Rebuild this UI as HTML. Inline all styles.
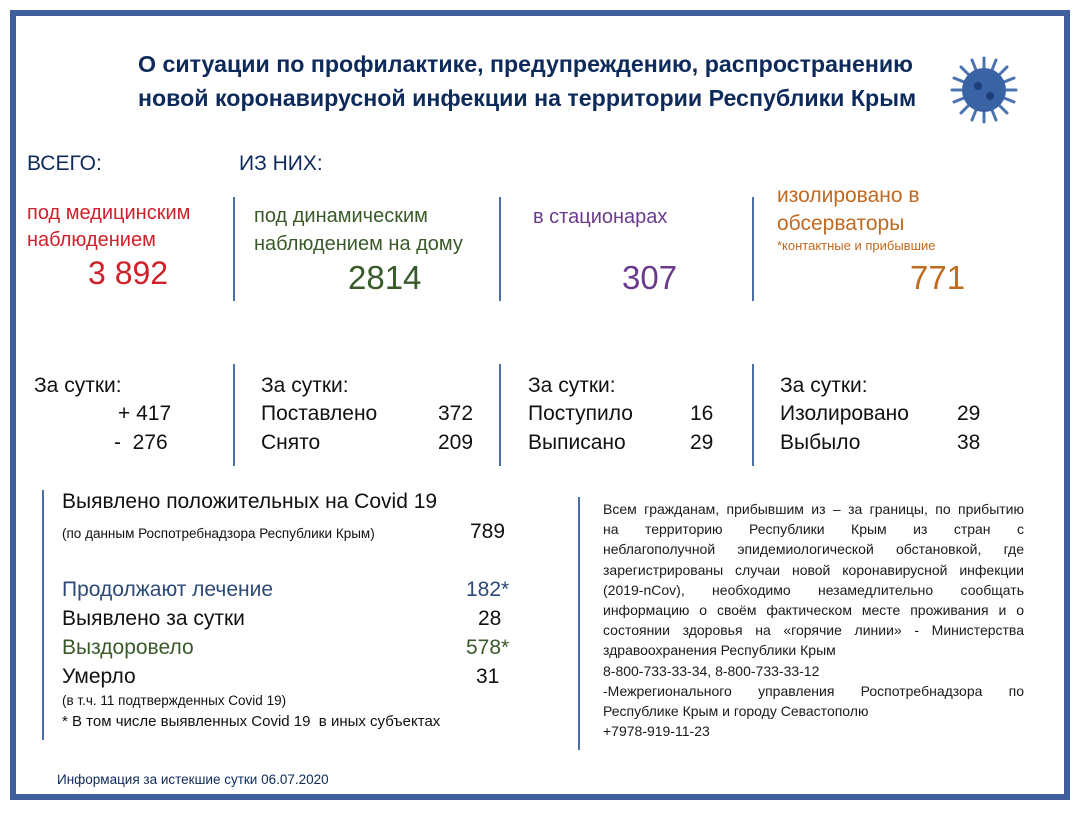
<!DOCTYPE html>
<html><head><meta charset="utf-8"><style>
body{margin:0;width:1080px;height:815px;background:#fff;position:relative;overflow:hidden;font-family:"Liberation Sans","Noto Sans CJK SC",sans-serif;}
.a{position:absolute;white-space:nowrap;}
.frame{position:absolute;left:10px;top:10px;width:1048px;height:778px;border:6px solid #3d5f9c;}
.vl{position:absolute;width:2px;background:#4a6ea8;}
.t{color:#0d2a5a;font-weight:bold;font-size:23.2px;}
.k{color:#111;font-size:21px;}
.d{color:#1a1a1a;font-size:14px;line-height:20.2px;position:absolute;left:603px;top:499px;width:421px;}
.d div{height:20.2px;white-space:nowrap;}
.d .j{text-align:justify;text-align-last:justify;}
</style></head><body>
<div class="frame"></div>
<div class="a t" style="left:138px;top:51px;">О ситуации по профилактике, предупреждению, распространению</div>
<div class="a t" style="left:138px;top:85px;">новой коронавирусной инфекции на территории Республики Крым</div>
<svg class="a" style="left:948px;top:52px" width="72" height="76" viewBox="0 0 72 76">
<g stroke="#4a72b0" stroke-width="3" stroke-linecap="round">
<line x1="36" y1="38" x2="36" y2="6"/><line x1="36" y1="38" x2="36" y2="70"/><line x1="36" y1="38" x2="4" y2="38"/><line x1="36" y1="38" x2="68" y2="38"/>
<line x1="36" y1="38" x2="13" y2="15"/><line x1="36" y1="38" x2="59" y2="61"/><line x1="36" y1="38" x2="59" y2="15"/><line x1="36" y1="38" x2="13" y2="61"/>
<line x1="36" y1="38" x2="24" y2="8"/><line x1="36" y1="38" x2="48" y2="68"/><line x1="36" y1="38" x2="6" y2="26"/><line x1="36" y1="38" x2="66" y2="50"/>
<line x1="36" y1="38" x2="48" y2="8"/><line x1="36" y1="38" x2="24" y2="68"/><line x1="36" y1="38" x2="66" y2="26"/><line x1="36" y1="38" x2="6" y2="50"/>
</g><circle cx="36" cy="38" r="22" fill="#3a63a6"/><circle cx="30" cy="34" r="4" fill="#1e3e78"/><circle cx="42" cy="44" r="4" fill="#1e3e78"/></svg>

<div class="a k" style="left:27px;top:152px;color:#0d2a5a;">ВСЕГО:</div>
<div class="a k" style="left:239px;top:152px;color:#0d2a5a;">ИЗ НИХ:</div>
<div class="a" style="left:27px;top:200px;color:#d0202a;font-size:20px;line-height:27px;">под медицинским<br>наблюдением</div>
<div class="a" style="left:88px;top:255px;color:#d0202a;font-size:32px;">3 892</div>
<div class="a" style="left:254px;top:202px;color:#3a5a2a;font-size:20px;line-height:28px;">под динамическим<br>наблюдением на дому</div>
<div class="a" style="left:348px;top:259px;color:#3a5a2a;font-size:33px;">2814</div>
<div class="a" style="left:533px;top:206px;color:#6b3a8c;font-size:20px;">в стационарах</div>
<div class="a" style="left:622px;top:259px;color:#6b3a8c;font-size:33px;">307</div>
<div class="a" style="left:777px;top:182px;color:#c06a20;font-size:21px;line-height:28px;">изолировано в<br>обсерваторы</div>
<div class="a" style="left:777px;top:238px;color:#c06a20;font-size:13px;">*контактные и прибывшие</div>
<div class="a" style="left:910px;top:259px;color:#c06a20;font-size:33px;">771</div>
<div class="vl" style="left:233px;top:197px;height:104px"></div>
<div class="vl" style="left:499px;top:197px;height:104px"></div>
<div class="vl" style="left:752px;top:197px;height:104px"></div>

<div class="a k" style="left:34px;top:374px;">За сутки:</div>
<div class="a k" style="left:118px;top:402px;">+ 417</div>
<div class="a k" style="left:114px;top:431px;">- &nbsp;276</div>
<div class="a k" style="left:261px;top:374px;">За сутки:</div>
<div class="a k" style="left:261px;top:402px;">Поставлено</div><div class="a k" style="left:438px;top:402px;">372</div>
<div class="a k" style="left:261px;top:431px;">Снято</div><div class="a k" style="left:438px;top:431px;">209</div>
<div class="a k" style="left:528px;top:374px;">За сутки:</div>
<div class="a k" style="left:528px;top:402px;">Поступило</div><div class="a k" style="left:690px;top:402px;">16</div>
<div class="a k" style="left:528px;top:431px;">Выписано</div><div class="a k" style="left:690px;top:431px;">29</div>
<div class="a k" style="left:780px;top:374px;">За сутки:</div>
<div class="a k" style="left:780px;top:402px;">Изолировано</div><div class="a k" style="left:957px;top:402px;">29</div>
<div class="a k" style="left:780px;top:431px;">Выбыло</div><div class="a k" style="left:957px;top:431px;">38</div>
<div class="vl" style="left:233px;top:364px;height:102px"></div>
<div class="vl" style="left:499px;top:364px;height:102px"></div>
<div class="vl" style="left:752px;top:364px;height:102px"></div>

<div class="vl" style="left:42px;top:490px;height:250px"></div>
<div class="a k" style="left:62px;top:490px;">Выявлено положительных на Covid 19</div>
<div class="a" style="left:62px;top:526px;font-size:13.5px;color:#111;">(по данным Роспотребнадзора Республики Крым)</div>
<div class="a k" style="left:470px;top:520px;">789</div>
<div class="a k" style="left:62px;top:578px;color:#2c4a78;">Продолжают лечение</div><div class="a k" style="left:466px;top:578px;color:#2c4a78;">182*</div>
<div class="a k" style="left:62px;top:607px;">Выявлено за сутки</div><div class="a k" style="left:478px;top:607px;">28</div>
<div class="a k" style="left:62px;top:636px;color:#3a5a2a;">Выздоровело</div><div class="a k" style="left:466px;top:636px;color:#3a5a2a;">578*</div>
<div class="a k" style="left:62px;top:665px;">Умерло</div><div class="a k" style="left:476px;top:665px;">31</div>
<div class="a" style="left:62px;top:693px;font-size:13.5px;color:#111;">(в т.ч. 11 подтвержденных Covid 19)</div>
<div class="a" style="left:62px;top:713px;font-size:15px;color:#111;">* В том числе выявленных Covid 19 &nbsp;в иных субъектах</div>

<div class="vl" style="left:578px;top:497px;height:253px"></div>
<div class="d">
<div class="j">Всем гражданам, прибывшим из – за границы, по прибытию</div>
<div class="j">на территорию Республики Крым из стран с</div>
<div class="j">неблагополучной эпидемиологической обстановкой, где</div>
<div class="j">зарегистрированы случаи новой коронавирусной инфекции</div>
<div class="j">(2019-nCov), необходимо незамедлительно сообщать</div>
<div class="j">информацию о своём фактическом месте проживания и о</div>
<div class="j">состоянии здоровья на «горячие линии» - Министерства</div>
<div>здравоохранения Республики Крым</div>
<div>8-800-733-33-34, 8-800-733-33-12</div>
<div class="j">-Межрегионального управления Роспотребнадзора по</div>
<div>Республике Крым и городу Севастополю</div>
<div>+7978-919-11-23</div>
</div>

<div class="a" style="left:57px;top:772px;font-size:13.5px;color:#0d2a5a;">Информация за истекшие сутки 06.07.2020</div>
</body></html>
